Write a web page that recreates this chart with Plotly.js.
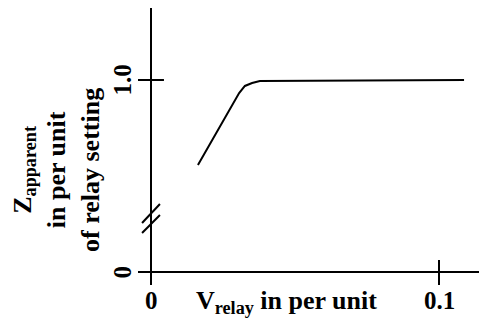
<!DOCTYPE html>
<html><head><meta charset="utf-8">
<script src="https://cdn.plot.ly/plotly-3.0.1.min.js"></script>
<style>html,body{margin:0;padding:0;background:#fff}#c{width:479px;height:320px}</style>
</head><body><div id="c"></div>
<script>
// Curve data
const vRelay = [0.0163, 0.0306, 0.0326, 0.0351, 0.0378, 0.1087];
const zApparent = [0.557, 0.932, 0.969, 0.984, 0.995, 1.0];
// Tick labels
const xTickVals = [0, 0.1];
const xTickText = ['0', '0.1'];
const yTickVals = [0, 1.0];
const yTickText = ['0', '1.0'];

const X0 = -0.004514, X1 = 0.11389, Y0 = -0.0677, Y1 = 1.375;
const FAM = 'Liberation Serif, Times New Roman, serif';
const FT = {family: FAM, size: 25, color: '#000'};
const FL = {family: FAM, size: 26, color: '#000'};
const black = {color: '#000', width: 2};

const shapes = [
  {type:'line', xref:'x', yref:'y', x0:X0, x1:X1, y0:0, y1:0, line:black},
  {type:'line', xref:'x', yref:'y', x0:0, x1:0, y0:Y0, y1:Y1, line:black},
  // 1.0 tick
  {type:'line', xref:'x', yref:'y', x0:X0, x1:0.0045, y0:1, y1:1, line:black},
  // 0.1 tick
  {type:'line', xref:'x', yref:'y', x0:0.1, x1:0.1, y0:Y0, y1:0.0625, line:black},
  // axis break marks
  {type:'line', xref:'x', yref:'y', x0:-0.0031, x1:0.0031, y0:0.255, y1:0.354, line:black},
  {type:'line', xref:'x', yref:'y', x0:-0.0031, x1:0.0031, y0:0.203, y1:0.297, line:black}
];

const annotations = [];
xTickVals.forEach((v,i)=>annotations.push({x:v, y:Y0, xref:'x', yref:'y', xanchor:'center', yanchor:'top', yshift:0,
  text:'<b>'+xTickText[i]+'</b>', showarrow:false, font:FT}));
yTickVals.forEach((v,i)=>annotations.push({x:X0, y:v, xref:'x', yref:'y', xanchor:'right', yanchor:'middle', xshift:-1,
  text:'<b>'+yTickText[i]+'</b>', textangle:-90, showarrow:false, font:FT}));
annotations.push({x:0.0469, y:Y0, xref:'x', yref:'y', xanchor:'center', yanchor:'top', yshift:1,
  text:'<b>V<sub>relay</sub> in per unit</b>', showarrow:false, font:FL});
annotations.push({x:(56-138)/341, y:(285-170)/277, xref:'paper', yref:'paper', xanchor:'center', yanchor:'middle',
  showarrow:false, textangle:-90,
  text:'<b>Z<sub>apparent</sub><br>in per unit<br>of relay setting</b>', font:FL});

const trace = {x: vRelay, y: zApparent, mode:'lines', type:'scatter',
  line:{color:'#000', width:2}, hoverinfo:'skip'};

const layout = {
  width:479, height:320, margin:{l:138, r:0, t:8, b:35},
  paper_bgcolor:'#fff', plot_bgcolor:'#fff', showlegend:false,
  xaxis:{range:[X0,X1], visible:false, fixedrange:true},
  yaxis:{range:[Y0,Y1], visible:false, fixedrange:true},
  shapes:shapes, annotations:annotations
};
Plotly.newPlot('c', [trace], layout, {staticPlot:true, displayModeBar:false});
</script></body></html>
